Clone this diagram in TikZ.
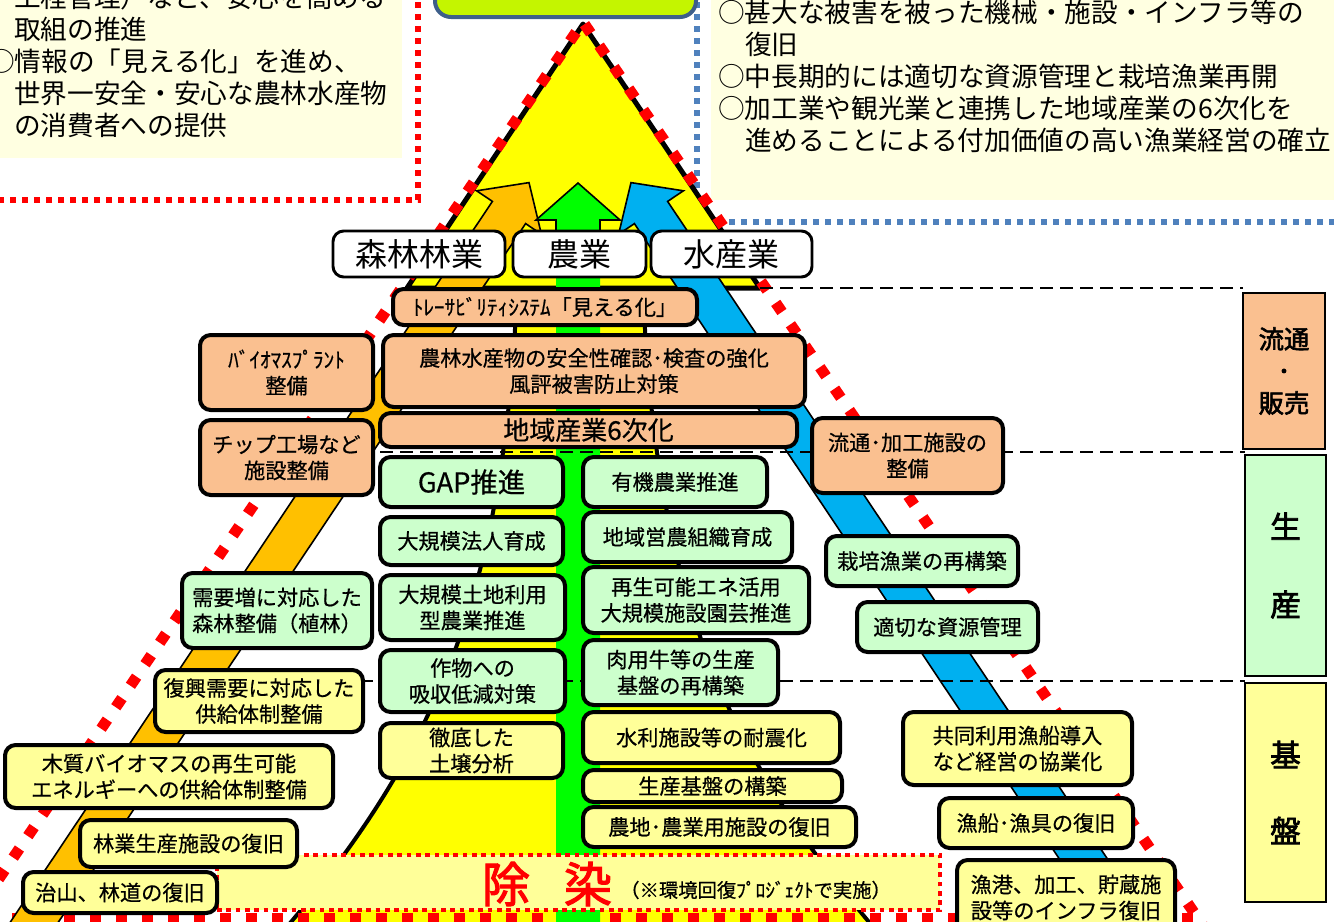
\documentclass[tikz,border=0pt]{standalone}
\usepackage{fontspec}
\newfontfamily\jp{Noto Sans CJK JP}
\newfontfamily\jpm{Noto Sans CJK JP}[FakeBold=0.6]
\newfontfamily\jpb{Noto Sans CJK JP}[FakeBold=2.5]
\definecolor{peach}{HTML}{FAC090}
\definecolor{lgreen}{HTML}{CCFFCC}
\definecolor{lyellow}{HTML}{FFFF99}
\definecolor{beige}{HTML}{FFFFE1}
\definecolor{orangeA}{HTML}{FFC000}
\definecolor{blueA}{HTML}{00B0F0}
\definecolor{greenA}{HTML}{00FF00}
\definecolor{yellowA}{HTML}{FFFF00}
\definecolor{topgreen}{RGB}{196,245,0}
\definecolor{topborder}{HTML}{3E5F8A}
\definecolor{bluedot}{HTML}{4F81BD}
\newcommand\bx[7]{\node[#6, minimum width={(#4-#2)*0.75pt}, minimum height={(#5-#3)*0.75pt}] (#1) at ({(#2+#4)/2},{(#3+#5)/2}) {#7};}
\tikzset{
  rbox/.style={draw=black, line width=3pt, rounded corners=8pt, fill=#1, inner sep=0pt, align=center, font=\jpm\fontsize{15.9}{19.5}\selectfont},
  lbl/.style={draw=black, line width=2.2pt, rounded corners=8pt, fill=white, inner sep=0pt, font=\jp\fontsize{24}{28}\selectfont},
  side/.style={draw=black, line width=1.5pt, fill=#1, inner sep=0pt, align=center, font=\jpb\fontsize{19}{24}\selectfont},
  bigdot/.style={draw=red, line width=8.25pt, dash pattern=on 8.25pt off 11.25pt},
  smalldot/.style={draw=#1, line width=4.5pt, dash pattern=on 4.5pt off 4.5pt},
  tinydot/.style={draw=red, line width=3.5pt, dash pattern=on 3.5pt off 3.5pt},
  level/.style={draw=black, line width=2pt, dash pattern=on 10pt off 5pt},
  topline/.style={anchor=west, inner sep=0pt, font=\jp\fontsize{20}{24}\selectfont},
  arrowfill/.style={fill=#1, draw=black, line width=1.2pt, line join=miter},
}
\begin{document}
\begin{tikzpicture}[x=0.75pt,y=-0.75pt]
\useasboundingbox (0,0) rectangle (1334,921);
\clip (0,0) rectangle (1334,921);
\fill[white] (0,0) rectangle (1334,921);

% top-left note
\fill[beige] (-10,-10) rectangle (402,158);
\draw[smalldot=red] (418,-10) -- (418,200) -- (-10,200);
\node[topline] (tl1) at (14,-3) {工程管理）など、安心を高める};
\node[topline] (tl2) at (14,29) {取組の推進};
\node[topline] (tl3) at (-12,61) {○情報の「見える化」を進め、};
\node[topline] (tl4) at (14,93) {世界一安全・安心な農林水産物};
\node[topline] (tl5) at (14,125) {の消費者への提供};

% top-right note
\fill[beige] (711,-10) rectangle (1344,200);
\draw[smalldot=bluedot] (697,-10) -- (697,222) -- (1344,222);
\node[topline] (tr1) at (718,12) {○甚大な被害を被った機械・施設・インフラ等の};
\node[topline] (tr2) at (745,44) {復旧};
\node[topline] (tr3) at (718,76) {○中長期的には適切な資源管理と栽培漁業再開};
\node[topline] (tr4) at (718,108) {○加工業や観光業と連携した地域産業の6次化を};
\node[topline] (tr5) at (745,140) {進めることによる付加価値の高い漁業経営の確立};

% top green box
\draw[fill=topgreen, draw=topborder, line width=3pt, rounded corners=12pt] (435,-40) rectangle (696,17);

% pyramid top triangle
\draw[fill=yellowA, line width=3.75pt, line join=round] (583,24) -- (760,288) -- (407,288) -- cycle;
% mountain
\draw[fill=yellowA, line width=3pt] (517,288) .. controls (505,600) and (430,760) .. (280,935) -- (880,935) .. controls (730,760) and (655,600) .. (643,288) -- cycle;

% red dotted outline
\draw[bigdot] (-60,965) -- (583,22) -- (1230,965);
\draw[bigdot] (-40,918) -- (1200,918);

% arrows
\draw[arrowfill=orangeA] (529,182.6) -- (541.4,234.2) -- (525.6,223.6) -- (25.6,971.1) -- (-7.6,948.9) -- (492.4,201.4) -- (476.6,190.8) -- cycle;
\draw[arrowfill=blueA] (631,182.6) -- (618.6,234.2) -- (634.4,223.6) -- (1134.4,971.1) -- (1167.6,948.9) -- (667.6,201.4) -- (683.4,190.8) -- cycle;
\fill[greenA] (578,183) -- (620,220) -- (600,220) -- (600,960) -- (556,960) -- (556,220) -- (536,220) -- cycle;
\draw[black, line width=1.2pt, line join=miter] (556,240) -- (556,220) -- (536,220) -- (578,183) -- (620,220) -- (600,220) -- (600,240);

% level lines
\draw[level] (760,288) -- (1243,288);
\draw[level] (300,452) -- (1245,452);
\draw[level] (160,681) -- (1245,681);

% category labels
\bx{forest}{333}{231}{505}{277}{lbl}{森林林業}
\bx{agri}{513}{231}{646}{277}{lbl}{農業}
\bx{fish}{651}{231}{812}{277}{lbl}{水産業}

% distribution / sales
\bx{trace}{393}{289}{697}{325}{rbox=peach}{ﾄﾚｰｻﾋﾞﾘﾃｨｼｽﾃﾑ「見える化」}
\bx{safety}{383}{335}{805}{407}{rbox=peach}{農林水産物の安全性確認･検査の強化\\風評被害防止対策}
\bx{sixth}{380}{413}{797}{447}{rbox=peach, font=\jpm\fontsize{19.5}{22}\selectfont}{地域産業6次化}
\bx{biomass}{200}{335}{373}{410}{rbox=peach}{ﾊﾞｲｵﾏｽﾌﾟﾗﾝﾄ\\整備}
\bx{chip}{200}{420}{373}{495}{rbox=peach}{チップ工場など\\施設整備}
\bx{dist}{812}{418}{1003}{493}{rbox=peach}{流通･加工施設の\\整備}

% production
\bx{gap}{380}{457}{563}{507}{rbox=lgreen, font=\jpm\fontsize{20.5}{22}\selectfont}{GAP推進}
\bx{organic}{583}{457}{767}{507}{rbox=lgreen}{有機農業推進}
\bx{corp}{380}{517}{563}{565}{rbox=lgreen}{大規模法人育成}
\bx{regionorg}{583}{512}{792}{562}{rbox=lgreen}{地域営農組織育成}
\bx{land}{380}{575}{565}{640}{rbox=lgreen}{大規模土地利用\\型農業推進}
\bx{renew}{583}{567}{809}{633}{rbox=lgreen}{再生可能エネ活用\\大規模施設園芸推進}
\bx{crop}{380}{650}{565}{712}{rbox=lgreen}{作物への\\吸収低減対策}
\bx{beef}{583}{640}{778}{705}{rbox=lgreen}{肉用牛等の生産\\基盤の再構築}
\bx{plant}{182}{573}{372}{648}{rbox=lgreen}{需要増に対応した\\森林整備（植林）}
\bx{culture}{826}{536}{1018}{586}{rbox=lgreen}{栽培漁業の再構築}
\bx{resource}{857}{602}{1038}{652}{rbox=lgreen}{適切な資源管理}

% decontamination
\node[tinydot, fill=lyellow, minimum width={(940-217)*0.75pt}, minimum height={(910-855)*0.75pt}, inner sep=0pt] (decont) at ({(217+940)/2},{(855+910)/2}) {};
\node[font=\jpb\fontsize{36}{40}\selectfont, text=red, inner sep=0pt] (jo) at (506,884) {除};
\node[font=\jpb\fontsize{36}{40}\selectfont, text=red, inner sep=0pt] (sen) at (588,884) {染};
\node[anchor=west, inner sep=0pt, font=\jpm\fontsize{14.5}{16}\selectfont] (decnote) at (620,890) {（※環境回復ﾌﾟﾛｼﾞｪｸﾄで実施）};

% infrastructure
\bx{supply}{155}{670}{363}{732}{rbox=lyellow}{復興需要に対応した\\供給体制整備}
\bx{soil}{380}{723}{563}{778}{rbox=lyellow}{徹底した\\土壌分析}
\bx{quake}{583}{712}{840}{763}{rbox=lyellow}{水利施設等の耐震化}
\bx{prodbase}{583}{770}{842}{802}{rbox=lyellow}{生産基盤の構築}
\bx{farmland}{583}{807}{856}{847}{rbox=lyellow}{農地･農業用施設の復旧}
\bx{wood}{5}{745}{333}{808}{rbox=lyellow}{木質バイオマスの再生可能\\エネルギーへの供給体制整備}
\bx{forestfac}{80}{820}{297}{867}{rbox=lyellow}{林業生産施設の復旧}
\bx{road}{23}{872}{217}{913}{rbox=lyellow}{治山、林道の復旧}
\bx{coop}{903}{712}{1132}{785}{rbox=lyellow}{共同利用漁船導入\\など経営の協業化}
\bx{boat}{939}{798}{1133}{848}{rbox=lyellow}{漁船･漁具の復旧}
\bx{port}{957}{860}{1175}{935}{rbox=lyellow}{漁港、加工、貯蔵施\\設等のインフラ復旧}

% side labels
\bx{sideA}{1243}{293}{1325}{449}{side=peach}{流通\\･\\販売}
\bx{sideB}{1245}{455}{1326}{676}{side=lgreen, font=\jpb\fontsize{23}{58.5}\selectfont}{生\\産}
\bx{sideC}{1245}{683}{1326}{902}{side=lyellow, font=\jpb\fontsize{23}{57}\selectfont}{基\\盤}
\end{tikzpicture}
\end{document}
